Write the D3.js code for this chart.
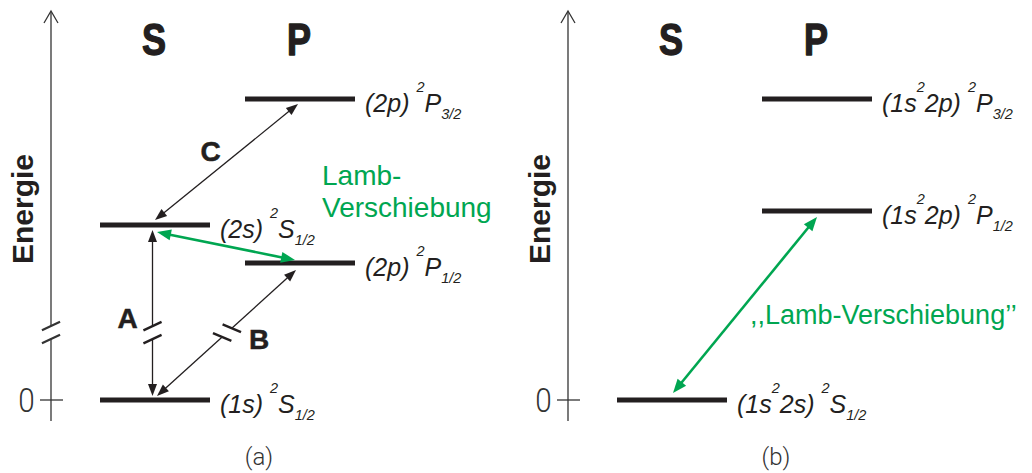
<!DOCTYPE html>
<html><head><meta charset="utf-8">
<script src="https://cdn.jsdelivr.net/npm/d3@7"></script>
<style>body{margin:0;background:#fff} svg{display:block}</style>
</head><body>
<svg id="chart" width="1032" height="473"></svg>
<script>
// ---------------- data ----------------
const columns = ["S", "P"];
const panelCaptions = ["(a)", "(b)"];
const axisTitle = "Energie";
const tickValues = [0];
const tickLabels = ["0"];
const breakEnergy = 22.4;           // energy where the axis break is drawn (panel a)

// panel (a): hydrogen
const levelIdsA = ["1s", "2s", "2p12", "2p32"];
const levelColsA = ["S", "S", "P", "P"];
const levelEnergyA = [0, 58.1, 45.5, 100];
const levelLabelsA = [
  [["(1s) ", "n"], ["2", "sup"], ["S", "n"], ["1/2", "sub"]],
  [["(2s) ", "n"], ["2", "sup"], ["S", "n"], ["1/2", "sub"]],
  [["(2p) ", "n"], ["2", "sup"], ["P", "n"], ["1/2", "sub"]],
  [["(2p) ", "n"], ["2", "sup"], ["P", "n"], ["3/2", "sub"]]
];
const transFromA = ["2s", "2s", "1s", "2s"];
const transToA = ["2p32", "1s", "2p12", "2p12"];
const transLabelsA = ["C", "A", "B", ""];
const transKindA = ["thin", "thin", "thin", "lamb"];
const transBrokenA = [false, true, true, false];
const annotationA = ["Lamb-", "Verschiebung"];

// panel (b): lithium-like
const levelIdsB = ["2s", "2p12", "2p32"];
const levelColsB = ["S", "P", "P"];
const levelEnergyB = [0, 62.8, 100];
const levelLabelsB = [
  [["(1s", "n"], ["2", "sup"], ["2s) ", "n"], ["2", "sup"], ["S", "n"], ["1/2", "sub"]],
  [["(1s", "n"], ["2", "sup"], ["2p) ", "n"], ["2", "sup"], ["P", "n"], ["1/2", "sub"]],
  [["(1s", "n"], ["2", "sup"], ["2p) ", "n"], ["2", "sup"], ["P", "n"], ["3/2", "sub"]]
];
const transFromB = ["2s"];
const transToB = ["2p12"];
const transLabelsB = [""];
const transKindB = ["lamb"];
const transBrokenB = [false];
const annotationB = [",,Lamb-Verschiebung\u2019\u2019"];

// ---------------- layout / style ----------------
const W = 1032, H = 473;
const panelOffsets = [0, 517];
const axisX = 51, axisTop = 11, axisBottom = 421;
const levelHalf = 55, levelStroke = 5;
const black = "#231f20", green = "#00a651", axisColor = "#333";
const sansFont = "'Liberation Sans', Arial, Helvetica, sans-serif";
const lightFont = "Roboto, 'Open Sans', sans-serif";

const layoutA = {
  tipFrom: [[0, -5], [-2.5, 5], [2, -4], [2, 7]],
  tipTo: [[-2, 5], [-2.5, -4], [-4, 7], [-5, -3]],
  labelOff: [[-16, -1], [-25, 15], [32.5, 16], null],
  annot: { x: 322, y: [185, 217], size: 28 },
  axisBreak: true
};
const layoutB = {
  tipFrom: [[1, -7]],
  tipTo: [[0, 6]],
  labelOff: [null],
  annot: { x: 233, y: [324], size: 27 },
  axisBreak: false
};

const y = d3.scaleLinear().domain([0, 100]).range([400, 99]);
const x = d3.scalePoint().domain(columns).range([155, 300]);

const svg = d3.select("#chart").attr("viewBox", `0 0 ${W} ${H}`);

function rot(v, deg) {
  const a = deg * Math.PI / 180;
  return [v[0] * Math.cos(a) - v[1] * Math.sin(a), v[0] * Math.sin(a) + v[1] * Math.cos(a)];
}

function drawSegment(g, a, b, color, w) {
  g.append("line").attr("x1", a[0]).attr("y1", a[1]).attr("x2", b[0]).attr("y2", b[1])
    .attr("stroke", color).attr("stroke-width", w);
}

// line from p0 to p1 with optional break at y = yb (two slashes)
function drawBrokenLine(g, p0, p1, color, w, yb, slashW) {
  const dx = p1[0] - p0[0], dy = p1[1] - p0[1];
  const len = Math.hypot(dx, dy);
  const u = [dx / len, dy / len];
  if (yb == null) { drawSegment(g, p0, p1, color, w); return; }
  const t = (yb - p0[1]) / dy;
  const c = [p0[0] + dx * t, p0[1] + dy * t];
  const gap = 6.5;
  drawSegment(g, p0, [c[0] - u[0] * gap, c[1] - u[1] * gap], color, w);
  drawSegment(g, [c[0] + u[0] * gap, c[1] + u[1] * gap], p1, color, w);
  const up = u[1] > 0 ? [-u[0], -u[1]] : u;
  const v = rot(up, 65);
  [-gap, gap].forEach(s => {
    const cc = [c[0] + u[0] * s, c[1] + u[1] * s];
    drawSegment(g, [cc[0] - v[0] * 10, cc[1] - v[1] * 10], [cc[0] + v[0] * 10, cc[1] + v[1] * 10], color, slashW);
  });
}

function head(g, tip, u, L, hw, color) {
  const n = [-u[1], u[0]];
  const b = [tip[0] - u[0] * L, tip[1] - u[1] * L];
  g.append("path")
    .attr("d", `M${tip[0]},${tip[1]}L${b[0] + n[0] * hw},${b[1] + n[1] * hw}L${b[0] - n[0] * hw},${b[1] - n[1] * hw}Z`)
    .attr("fill", color);
}

function drawArrow(g, p0, p1, kind, broken, yb) {
  const isLamb = kind === "lamb";
  const color = isLamb ? green : black;
  const w = isLamb ? 2.6 : 1.3;
  const L = isLamb ? 14 : 12, hw = isLamb ? 5.5 : 4.5;
  const dx = p1[0] - p0[0], dy = p1[1] - p0[1];
  const len = Math.hypot(dx, dy);
  const u = [dx / len, dy / len];
  const a = [p0[0] + u[0] * (L - 2), p0[1] + u[1] * (L - 2)];
  const b = [p1[0] - u[0] * (L - 2), p1[1] - u[1] * (L - 2)];
  drawBrokenLine(g, a, b, color, w, broken ? yb : null, 2.4);
  head(g, p1, u, L, hw, color);
  head(g, p0, [-u[0], -u[1]], L, hw, color);
}

function labelText(g, xPos, yPos, parts) {
  const t = g.append("text").attr("x", xPos).attr("y", yPos)
    .attr("font-family", sansFont).attr("font-style", "italic")
    .attr("font-size", 25).attr("fill", black);
  let shift = 0;
  parts.forEach(([s, k]) => {
    const target = k === "sup" ? -20 : (k === "sub" ? 7 : 0);
    t.append("tspan").text(s)
      .attr("font-size", k === "n" ? 25 : 14.5)
      .attr("dy", target - shift);
    shift = target;
  });
}

function drawPanel(idx, levelIds, levelCols, levelEnergy, levelLabels,
                   tFrom, tTo, tLabels, tKind, tBroken, annotation, layout) {
  const g = svg.append("g").attr("transform", `translate(${panelOffsets[idx]},0)`);
  const yb = y(breakEnergy);

  // axis
  const ag = g.append("g");
  drawBrokenLine(ag, [axisX, axisBottom], [axisX, axisTop + 1], axisColor, 1.3,
    layout.axisBreak ? yb : null, 2.2);
  ag.append("path")
    .attr("d", `M${axisX - 7},${axisTop + 12}L${axisX},${axisTop}L${axisX + 7},${axisTop + 12}`)
    .attr("fill", "none").attr("stroke", axisColor).attr("stroke-width", 1.3);
  tickValues.forEach((v, i) => {
    ag.append("line").attr("x1", axisX - 11).attr("x2", axisX + 12)
      .attr("y1", y(v)).attr("y2", y(v)).attr("stroke", axisColor).attr("stroke-width", 1.3);
    ag.append("text").attr("transform", `translate(${axisX - 24.5},${y(v) + 12}) scale(0.9,1)`)
      .attr("text-anchor", "middle").attr("font-family", lightFont).attr("font-weight", 300)
      .attr("font-size", 33).attr("fill", "#333").text(tickLabels[i]);
  });
  ag.append("text").attr("transform", `translate(${axisX - 18},209) rotate(-90)`)
    .attr("text-anchor", "middle").attr("font-family", sansFont).attr("font-weight", "bold")
    .attr("font-size", 30).attr("fill", black).text(axisTitle);

  // column headers (condensed bold)
  columns.forEach(c => {
    g.append("text").attr("transform", `translate(${x(c) - 1},55) scale(0.8,1)`)
      .attr("text-anchor", "middle")
      .attr("font-family", sansFont)
      .attr("font-weight", "bold").attr("font-size", 45).attr("fill", black)
      .attr("stroke", black).attr("stroke-width", 1.4).attr("stroke-linejoin", "round")
      .text(c);
  });

  // levels
  const lvPos = {};
  levelIds.forEach((id, i) => {
    const cx = x(levelCols[i]), cy = y(levelEnergy[i]);
    lvPos[id] = [cx, cy];
    g.append("line").attr("x1", cx - levelHalf).attr("x2", cx + levelHalf)
      .attr("y1", cy).attr("y2", cy).attr("stroke", black).attr("stroke-width", levelStroke);
    labelText(g, cx + levelHalf + 10, cy + 13, levelLabels[i]);
  });

  // transitions
  tFrom.forEach((f, i) => {
    const a = lvPos[f], b = lvPos[tTo[i]];
    const p0 = [a[0] + layout.tipFrom[i][0], a[1] + layout.tipFrom[i][1]];
    const p1 = [b[0] + layout.tipTo[i][0], b[1] + layout.tipTo[i][1]];
    drawArrow(g, p0, p1, tKind[i], tBroken[i], yb);
    if (tLabels[i]) {
      const m = [(p0[0] + p1[0]) / 2, (p0[1] + p1[1]) / 2];
      g.append("text").attr("x", m[0] + layout.labelOff[i][0]).attr("y", m[1] + layout.labelOff[i][1])
        .attr("text-anchor", "middle").attr("font-family", sansFont).attr("font-weight", "bold")
        .attr("font-size", 28).attr("fill", black)
        .attr("stroke", black).attr("stroke-width", 0.5).text(tLabels[i]);
    }
  });

  // annotation
  annotation.forEach((s, i) => {
    g.append("text").attr("x", layout.annot.x).attr("y", layout.annot.y[i])
      .attr("font-family", sansFont).attr("font-size", layout.annot.size)
      .attr("fill", green).text(s);
  });

  // caption
  g.append("text").attr("x", 259).attr("y", 465).attr("text-anchor", "middle")
    .attr("font-family", lightFont).attr("font-weight", 300).attr("font-size", 24)
    .attr("fill", "#333").text(panelCaptions[idx]);
}

drawPanel(0, levelIdsA, levelColsA, levelEnergyA, levelLabelsA,
  transFromA, transToA, transLabelsA, transKindA, transBrokenA, annotationA, layoutA);
drawPanel(1, levelIdsB, levelColsB, levelEnergyB, levelLabelsB,
  transFromB, transToB, transLabelsB, transKindB, transBrokenB, annotationB, layoutB);
</script>
</body></html>
